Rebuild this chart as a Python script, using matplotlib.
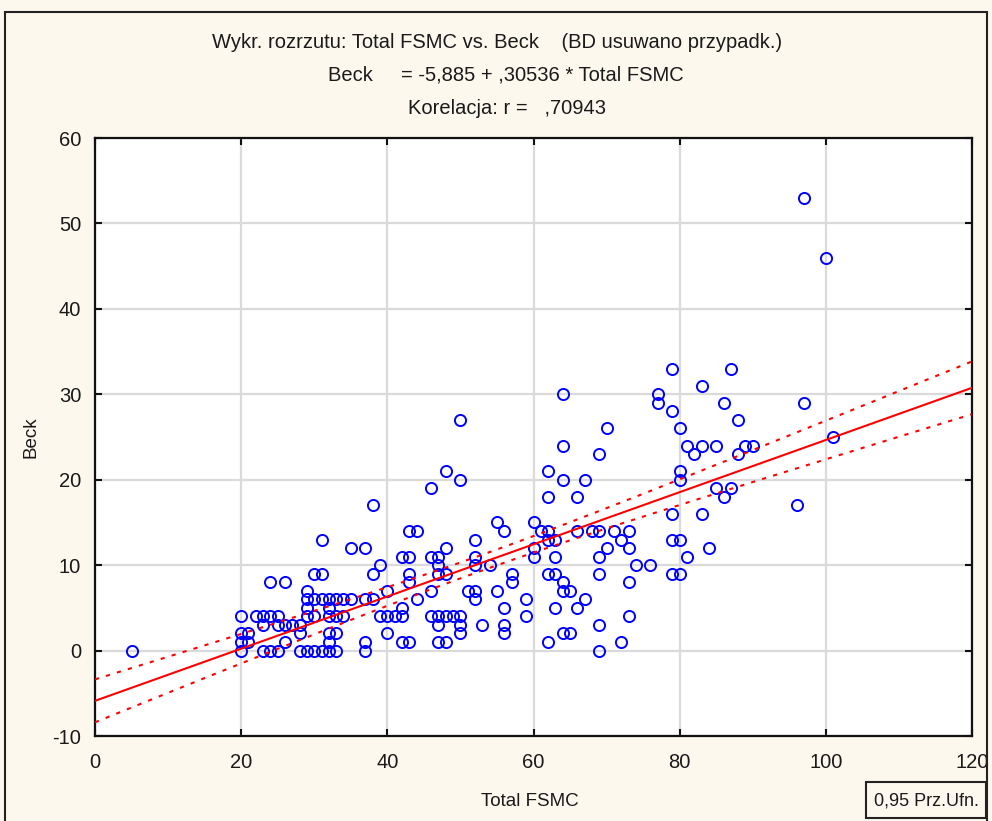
import numpy as np
import matplotlib
matplotlib.use("Agg")
import matplotlib.pyplot as plt
from matplotlib.patches import Rectangle

# ---- data ----
fsmc_groups = {
    5: [0],
    20: [4, 2, 1, 0], 21: [2, 1], 22: [4], 23: [4, 3, 0], 24: [8, 4, 0],
    25: [4, 3, 0], 26: [8, 3, 1], 27: [3], 28: [3, 2, 0], 29: [7, 6, 5, 4, 0],
    30: [9, 6, 4, 0], 31: [13, 9, 6, 0], 32: [6, 5, 4, 2, 1, 0], 33: [6, 4, 2, 0],
    34: [6, 4], 35: [12, 6], 37: [12, 6, 1, 0], 38: [17, 9, 6], 39: [10, 4],
    40: [7, 4, 2], 41: [4], 42: [11, 5, 4, 1], 43: [14, 11, 9, 8, 1], 44: [14, 6],
    46: [19, 11, 7, 4], 47: [11, 10, 9, 4, 3, 1], 48: [21, 12, 9, 4, 1], 49: [4],
    50: [27, 20, 4, 3, 2], 51: [7], 52: [13, 11, 10, 7, 6], 53: [3], 54: [10],
    55: [15, 7], 56: [14, 5, 3, 2], 57: [9, 8], 59: [6, 4], 60: [15, 12, 11],
    61: [14], 62: [21, 18, 14, 13, 9, 1], 63: [13, 11, 9, 5],
    64: [30, 24, 20, 8, 7, 2], 65: [7, 2], 66: [18, 14, 5], 67: [20, 6], 68: [14],
    69: [23, 14, 11, 9, 3, 0], 70: [26, 12], 71: [14], 72: [13, 1],
    73: [14, 12, 8, 4], 74: [10], 76: [10], 77: [30, 29],
    79: [33, 28, 16, 13, 9], 80: [26, 21, 20, 13, 9], 81: [24, 11], 82: [23],
    83: [31, 24, 16], 84: [12], 85: [24, 19], 86: [29, 18], 87: [33, 19],
    88: [27, 23], 89: [24], 90: [24], 96: [17], 97: [53, 29], 100: [46], 101: [25],
}
total_fsmc = [x for x, ys in fsmc_groups.items() for _ in ys]
beck = [y for x, ys in fsmc_groups.items() for y in ys]

intercept = -5.885
slope = 0.30536
title_lines = [
    "Wykr. rozrzutu: Total FSMC vs. Beck    (BD usuwano przypadk.)",
    "Beck     = -5,885 + ,30536 * Total FSMC",
    "Korelacja: r =   ,70943",
]
x_ticks = [0, 20, 40, 60, 80, 100, 120]
y_ticks = [-10, 0, 10, 20, 30, 40, 50, 60]

# ---- figure ----
W, H = 992, 821
plt.rcParams['font.family'] = ['Liberation Sans', 'DejaVu Sans']
plt.rcParams['axes.unicode_minus'] = False
fig = plt.figure(figsize=(W / 100, H / 100), dpi=100)
bg = "#FDF8EE"
fig.patch.set_facecolor(bg)
txt = "#1A1A1A"

# outer frame
fig.add_artist(Rectangle((5 / W, -0.01), (987 - 5) / W, 1 - 12 / H + 0.01,
                         transform=fig.transFigure, fill=False,
                         edgecolor="#222222", linewidth=1.5))

ax = fig.add_axes([95 / W, 1 - 736 / H, (972 - 95) / W, (736 - 138) / H])
ax.set_facecolor("white")
ax.set_xlim(0, 120)
ax.set_ylim(-10, 60)
ax.set_xticks(x_ticks)
ax.set_yticks(y_ticks)
ax.grid(True, color="#DADADA", linewidth=1.6)
ax.set_axisbelow(True)
ax.tick_params(direction="in", length=5, width=1.5, color="#111111",
               top=True, right=True, labelsize=14.5, labelcolor=txt)
ax.tick_params(axis="x", pad=12)
ax.tick_params(axis="y", pad=10)
for s in ax.spines.values():
    s.set_linewidth(1.6)
    s.set_color("#111111")

x = np.array(total_fsmc, dtype=float)
y = np.array(beck, dtype=float)
xs = np.linspace(0, 120, 200)
yline = intercept + slope * xs
n = len(x)
resid = y - (intercept + slope * x)
s = np.sqrt(np.sum(resid ** 2) / (n - 2))
xm = x.mean()
sxx = np.sum((x - xm) ** 2)
hw = 1.972 * s * np.sqrt(1 / n + (xs - xm) ** 2 / sxx)

ax.plot(x, y, linestyle="none", marker="o", markersize=8,
        markerfacecolor="none", markeredgecolor="#0000FF", markeredgewidth=1.4,
        zorder=3)
ax.plot(xs, yline, color="#FF0000", linewidth=1.5, zorder=4)
ax.plot(xs, yline + hw, color="#FF0000", linewidth=1.5, linestyle=(0, (2, 3.5)), zorder=4)
ax.plot(xs, yline - hw, color="#FF0000", linewidth=1.5, linestyle=(0, (2, 3.5)), zorder=4)

fig.text(530 / W, 1 - 801 / H, "Total FSMC", ha="center", va="center",
         fontsize=13.5, color=txt)
fig.text(31 / W, 1 - 437 / H, "Beck", ha="center", va="center",
         fontsize=13.5, color=txt, rotation=90)

# titles
fig.text(497 / W, 1 - 43 / H, title_lines[0], ha="center", va="center",
         fontsize=14.5, color=txt)
fig.text(506 / W, 1 - 75 / H, title_lines[1], ha="center", va="center",
         fontsize=14.5, color=txt)
fig.text(507 / W, 1 - 108 / H, title_lines[2], ha="center", va="center",
         fontsize=14.5, color=txt)

# legend-like box
fig.add_artist(Rectangle((866 / W, 1 - 818 / H), (986 - 866) / W, (818 - 782) / H,
                         transform=fig.transFigure, fill=False,
                         edgecolor="#222222", linewidth=1.5))
fig.text(926 / W, 1 - 801 / H, "0,95 Prz.Ufn.", ha="center", va="center",
         fontsize=13, color=txt)

fig.savefig("out.png", dpi=100, facecolor=bg)
